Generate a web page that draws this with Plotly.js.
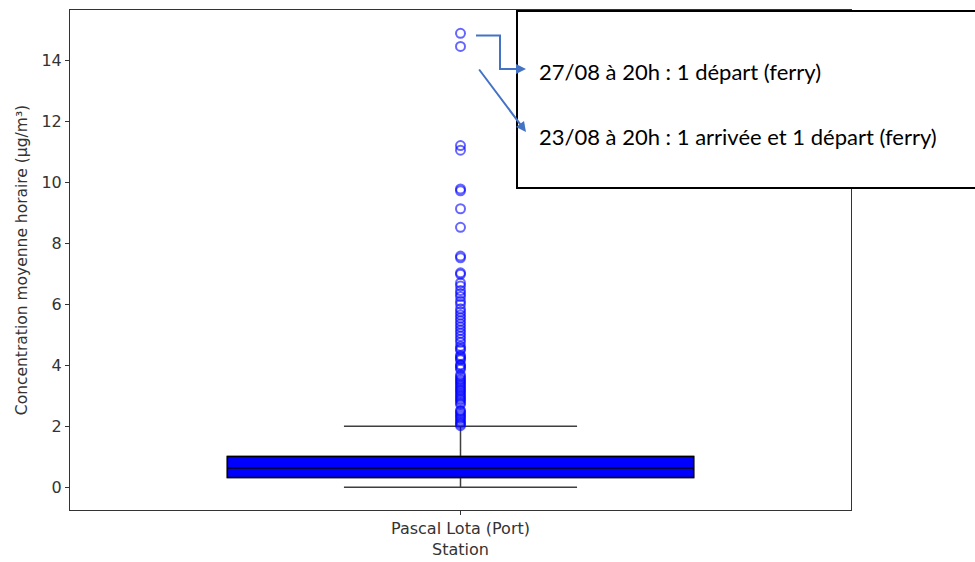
<!DOCTYPE html>
<html>
<head>
<meta charset="utf-8">
<script src="https://cdn.plot.ly/plotly-3.0.1.min.js"></script>
<style>html,body{margin:0;padding:0;background:#fff;}#chart{width:975px;height:562px;}</style>
</head>
<body>
<div id="chart"></div>
<script>
// ---- data ----
const station = "Pascal Lota (Port)";
const q1 = 0.32;
const median = 0.63;
const q3 = 1.01;
const lowerWhisker = 0.0;
const upperWhisker = 2.0;
const outliers = [14.88, 14.45, 11.2, 11.05, 9.78, 9.72, 9.13, 8.52, 7.58, 7.52, 7.03, 6.98,
  6.7, 6.6, 6.45, 6.35, 6.25, 6.1, 6.0, 5.85, 5.75, 5.65, 5.55, 5.45, 5.35, 5.25, 5.15,
  5.05, 4.95, 4.85, 4.75, 4.62, 4.55, 4.5, 4.32, 4.28, 4.22, 4.18, 4.02, 3.98, 3.93, 3.87,
  3.68, 3.62, 3.55, 3.5, 3.44, 3.38, 3.32, 3.26, 3.2, 3.15, 3.08, 3.02, 2.96, 2.9, 2.85,
  2.78, 2.72, 2.52, 2.48, 2.42, 2.36, 2.3, 2.25, 2.18, 2.12, 2.07, 2.02];
const yTicks = [0, 2, 4, 6, 8, 10, 12, 14];
const note1 = "27/08 à 20h : 1 départ (ferry)";
const note2 = "23/08 à 20h : 1 arrivée et 1 départ (ferry)";
const yTitle = "Concentration moyenne horaire (µg/m³)";
const xTitle = "Station";

// ---- layout helpers (pixel -> paper) ----
const L = 70, R = 124, T = 10, B = 52, W = 975, H = 562;
const PW = W - L - R, PH = H - T - B;
const px = x => (x - L) / PW;
const py = y => (H - B - y) / PH;

const arrowColor = "#4472C4";

const traces = [
  { // whiskers
    type: "box", x: [station], q1: [q1], median: [median], q3: [q3],
    lowerfence: [lowerWhisker], upperfence: [upperWhisker],
    width: 0.597, whiskerwidth: 0.5, boxpoints: false,
    line: {color: "#3f3f3f", width: 1.5}, fillcolor: "blue", hoverinfo: "skip", showlegend: false
  },
  { // outliers
    type: "scatter", mode: "markers", x: outliers.map(() => station), y: outliers,
    marker: {symbol: "circle-open", size: 9, color: "rgba(0,0,255,0.6)", line: {width: 2}},
    showlegend: false, hoverinfo: "y"
  },
  { // box body
    type: "box", x: [station], q1: [q1], median: [median], q3: [q3],
    lowerfence: [q1], upperfence: [q3],
    width: 0.597, whiskerwidth: 0, boxpoints: false,
    line: {color: "#000000", width: 1.5}, fillcolor: "blue", hoverinfo: "skip", showlegend: false
  }
];

const fam = "'DejaVu Sans', Verdana, sans-serif";
const tickFont = {family: fam, size: 16, color: "#333"};
const yTitleFont = {family: fam, size: 15.5, color: "#333"};

const layout = {
  width: W, height: H,
  margin: {l: L, r: R, t: T, b: B, pad: 0},
  paper_bgcolor: "#fff", plot_bgcolor: "#fff",
  boxmode: "overlay",
  showlegend: false,
  font: {family: fam},
  xaxis: {
    type: "category", range: [-0.5, 0.5],
    showline: true, mirror: true, linecolor: "#333", linewidth: 1,
    ticks: "outside", ticklen: 4, tickcolor: "#333",
    showgrid: false, zeroline: false,
    tickfont: tickFont,
    title: {text: xTitle, font: tickFont, standoff: 6}
  },
  yaxis: {
    range: [-0.745, 15.645], tickvals: yTicks,
    showline: true, mirror: true, linecolor: "#333", linewidth: 1,
    ticks: "outside", ticklen: 4, tickcolor: "#333",
    showgrid: false, zeroline: false,
    tickfont: tickFont,
    title: {text: yTitle, font: yTitleFont, standoff: 10}
  },
  shapes: [
    {type: "rect", xref: "paper", yref: "paper", x0: px(517), x1: px(990), y0: py(188), y1: py(11),
     line: {color: "#000", width: 2}, fillcolor: "#fff", layer: "above"},
    {type: "path", xref: "paper", yref: "paper",
     path: `M ${px(476)} ${py(35.5)} L ${px(500)} ${py(35.5)} L ${px(500)} ${py(69)} L ${px(518)} ${py(69)}`,
     line: {color: arrowColor, width: 2}, layer: "above"}
  ],
  annotations: [
    {xref: "paper", yref: "paper", x: px(526), y: py(69), ax: -10, ay: 0, text: "",
     showarrow: true, arrowhead: 2, arrowsize: 1, arrowwidth: 2, arrowcolor: arrowColor},
    {xref: "paper", yref: "paper", x: px(526), y: py(132), ax: -48, ay: -64, text: "",
     showarrow: true, arrowhead: 2, arrowsize: 1, arrowwidth: 2, arrowcolor: arrowColor},
    {xref: "paper", yref: "paper", x: px(537), y: py(71), xanchor: "left", yanchor: "middle",
     text: note1, showarrow: false, font: {family: "Lato", size: 22, color: "#000"}},
    {xref: "paper", yref: "paper", x: px(537), y: py(136), xanchor: "left", yanchor: "middle",
     text: note2, showarrow: false, font: {family: "Lato", size: 22, color: "#000"}}
  ]
};

Plotly.newPlot("chart", traces, layout, {displayModeBar: false, staticPlot: true});
</script>
</body>
</html>
